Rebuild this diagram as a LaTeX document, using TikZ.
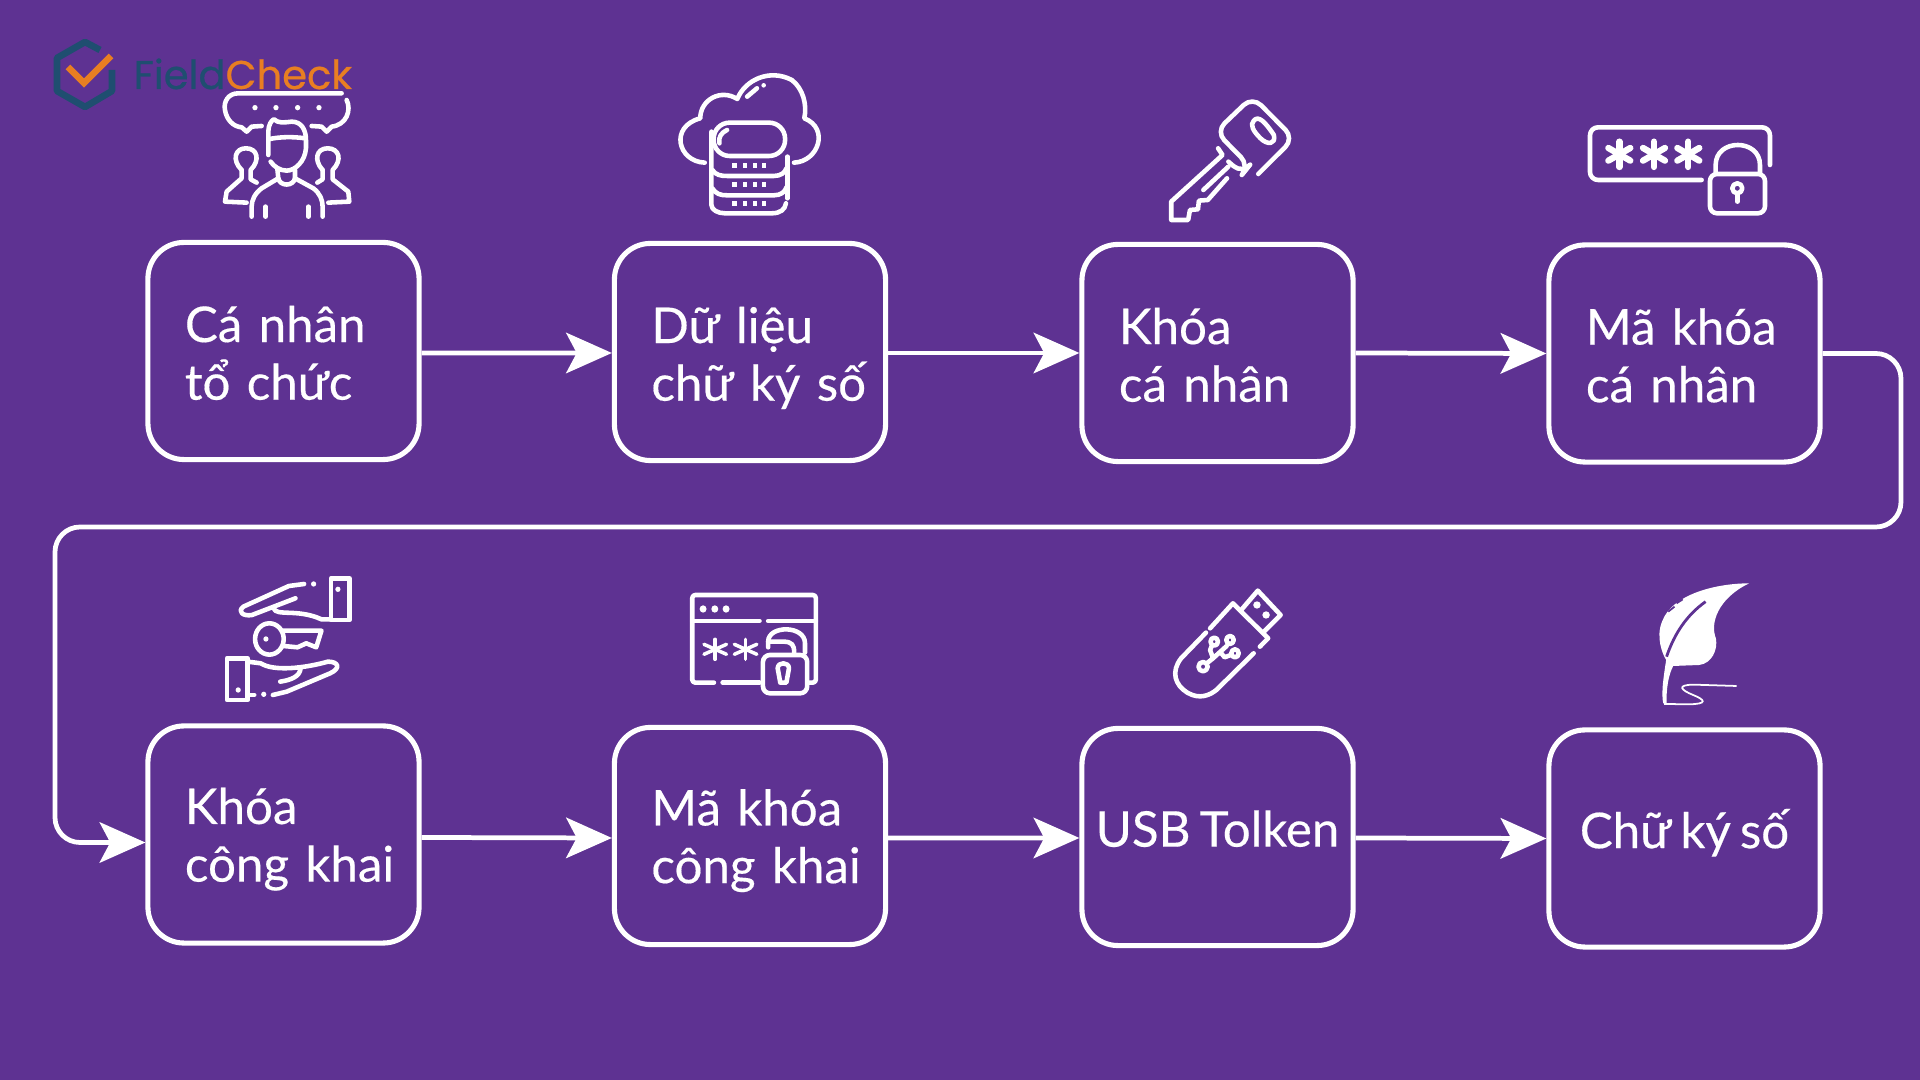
\documentclass[tikz,border=0pt]{standalone}
\usepackage{fontspec}
\setmainfont[FakeBold=0.35,WordSpace=0.72]{Lato}
\newfontfamily\logofont[FakeBold=0.6]{Poppins}
\usetikzlibrary{arrows.meta}
\definecolor{bgpurple}{HTML}{5E3292}
\definecolor{logoteal}{HTML}{1F4E70}
\definecolor{logoorange}{HTML}{E87E22}
\newcommand{\starmark}[3]{\foreach \a in {30,90,150} \draw[icon] (#1,#2)+(\a:#3) -- +(\a+180:#3);}
\tikzset{
    icon/.style={draw=white,line width=1.3pt,line cap=round,line join=round},
    stepbox/.style={draw=white,line width=1.45pt,rounded corners=0.36cm,minimum width=2.71cm,minimum height=2.17cm,
        text=white,font=\fontsize{14}{16.4}\selectfont,inner sep=0pt},
    leftbox/.style={align=left,text width=1.97cm,execute at begin node={\rule{0pt}{#1}},execute at end node={\rule[-3pt]{0pt}{3pt}}},
    midbox/.style={align=center,text height=11pt,text depth=5.5pt}
}

\begin{document}
\begin{tikzpicture}[x=0.01cm,y=-0.01cm]
\fill[bgpurple] (0,0) rectangle (1920,1080);

\begin{scope}[every node/.style={stepbox}]
    \node (A)[leftbox=14.3pt] at (283.5,351) {Cá nhân\\tổ chức};
    \node (B)[leftbox=14.3pt] at (750,352) {Dữ liệu\\\mbox{chữ ký số}};
    \node (C)[leftbox=14.3pt] at (1217.5,353) {Khóa\\cá nhân};
    \node (D)[leftbox=14.3pt] at (1684.5,353.5) {Mã khóa\\cá nhân};
    \node (E)[leftbox=13.4pt] at (283.5,834.5) {Khóa\\\mbox{công khai}};
    \node (F)[leftbox=13.4pt] at (750,836) {Mã khóa\\\mbox{công khai}};
    \node (G)[midbox] at (1217.5,837) {USB Tolken};
    \node (H)[midbox] at (1684.5,838.5) {Chữ ký số};
\end{scope}

\coordinate (turnA) at (1901,527);
\coordinate (turnB) at (55,527);

\begin{scope}[every edge/.style={draw=white,line width=1.35pt,-{Stealth[length=13pt,width=11.5pt,inset=3pt]}}]
    \path  ([yshift=-.02cm]A.east) edge ([yshift=-.01cm]B.west);
    \path  ([yshift=-.01cm]B.east) edge (C.west);
    \path  (C.east) edge (D.west);
    \path  ([yshift=-.03cm]E.east) edge ([yshift=-.02cm]F.west);
    \path  ([yshift=-.02cm]F.east) edge ([yshift=-.01cm]G.west);
    \path  ([yshift=-.01cm]G.east) edge (H.west);
    \draw[white,line width=1.35pt,rounded corners=0.25cm,-{Stealth[length=13pt,width=11.5pt,inset=3pt]}]
        (D.east) -| (turnA) -- (turnB) |- ([yshift=-.08cm]E.west);
\end{scope}

% logo
\draw[logoteal,line width=1.9pt,line join=round] (100,50) -- (85,42) -- (57,58) -- (57,91) -- (85,107) -- (112,91) -- (112,70);
\draw[logoorange,line width=1.9pt] (68,67) -- (84,83) -- (111,56);
\node (logo)[anchor=base west,inner sep=0pt,font=\logofont\fontsize{11.4}{11.4}\selectfont] at (133,89) {\textcolor{logoteal}{Field}\textcolor{logoorange}{Check}};

% people
\begin{scope}[shift={(0,20)},scale=0.3333]
    \draw[icon] (1025,220) -- (715,220) .. controls (685,220) and (670,245) .. (675,270) .. controls (680,300) and (700,320) .. (725,322) -- (740,335) -- (755,320) -- (785,318);
    \draw[icon] (1040,240) .. controls (1055,270) and (1040,315) .. (995,320) -- (980,335) -- (965,320) -- (935,318);
    \foreach \dx in {765,828,893,957} \fill[white] (\dx,263) circle[radius=8];
    \draw[icon] (805,405) -- (805,335) .. controls (805,315) and (815,300) .. (822,298) .. controls (835,310) and (850,308) .. (875,305) .. controls (905,305) and (918,330) .. (918,360) -- (918,385) .. controls (915,425) and (885,452) .. (860,452) .. controls (840,452) and (822,440) .. (812,425);
    \draw[icon] (805,358) .. controls (840,350) and (880,350) .. (915,355);
    \draw[icon] (832,445) -- (835,475) .. controls (840,500) and (880,500) .. (885,475) -- (885,450);
    \draw[icon] (835,475) -- (785,505) .. controls (765,520) and (755,540) .. (755,560) -- (755,590);
    \draw[icon] (885,475) -- (940,505) .. controls (960,520) and (968,540) .. (968,560) -- (968,590);
    \draw[icon] (797,560) -- (797,590);
    \draw[icon] (925,560) -- (925,590);
    \draw[icon] (725,450) .. controls (695,420) and (705,385) .. (738,385) .. controls (772,385) and (782,420) .. (752,450) -- (752,478) -- (770,488);
    \draw[icon] (725,450) -- (725,475) -- (680,515) -- (675,545) -- (740,548);
    \draw[icon] (968,450) .. controls (940,420) and (950,385) .. (983,385) .. controls (1018,385) and (1028,420) .. (998,450) -- (998,478) -- (1045,515) -- (1048,545) -- (985,548);
    \draw[icon] (968,450) -- (968,478) -- (952,488);
\end{scope}

% cloud database
\begin{scope}[shift={(640,50)},xscale=0.4464,yscale=0.3333]
    \draw[icon] (145,338) .. controls (85,335) and (65,230) .. (135,205) .. controls (135,150) and (180,115) .. (218,147) .. controls (235,90) and (290,55) .. (340,90) .. controls (365,115) and (375,165) .. (368,205) .. controls (425,235) and (400,335) .. (345,338);
    \draw[icon] (240,140) -- (262,115);
    \draw[icon] (277,106) -- (277,106);
    \draw[icon,rounded corners=0.16cm] (165,218) rectangle (325,318);
    \draw[icon] (160,245) -- (160,465) .. controls (160,480) and (175,490) .. (190,490) -- (295,490) .. controls (315,490) and (325,478) .. (327,460);
    \draw[icon] (330,320) -- (330,445);
    \draw[icon] (162,360) .. controls (170,375) and (180,378) .. (195,378) -- (300,378) .. controls (315,378) and (325,368) .. (328,355);
    \draw[icon] (162,415) .. controls (170,432) and (180,436) .. (195,436) -- (300,436) .. controls (315,436) and (325,426) .. (328,412);
    \foreach \dy in {347,403,460} {
        \foreach \dx in {212,235,258,278} \fill[white] (\dx-5,\dy-7) rectangle (\dx+5,\dy+7);
    }
    \draw[icon] (178,280) .. controls (175,262) and (182,248) .. (195,240);
\end{scope}

% private key
\begin{scope}[shift={(640,50)},xscale=0.4464,yscale=0.3333]
    \draw[icon,rounded corners=0.12cm] (1385,372) -- (1465,265) -- (1372,140) -- (1290,245) -- (1365,347) -- (1350,372) -- (1318,335);
    \draw[icon] (1375,212) .. controls (1385,195) and (1400,215) .. (1420,255) .. controls (1425,285) and (1405,285) .. (1390,265) .. controls (1375,245) and (1365,225) .. (1375,212);
    \draw[icon] (1295,295) -- (1305,315) -- (1190,455) -- (1190,510) -- (1228,510) -- (1232,480) -- (1250,478) -- (1252,452) -- (1272,450) -- (1315,385);
    \draw[icon] (1318,350) -- (1262,420);
\end{scope}

% password lock
\begin{scope}[shift={(1540,100)},scale=0.3333]
    \draw[icon,rounded corners=0.08cm] (485,240) -- (150,240) -- (150,82) -- (690,82) -- (690,195);
    \begin{scope}[icon/.append style={line width=1.8pt}]
        \starmark{238}{163}{38}
        \starmark{342}{163}{38}
        \starmark{445}{163}{38}
    \end{scope}
    \draw[icon,rounded corners=0.07cm] (510,222) rectangle (675,340);
    \draw[icon] (527,222) -- (527,195) .. controls (527,115) and (660,115) .. (660,195) -- (660,222);
    \draw[icon] (592,265) circle[radius=15];
    \draw[icon] (592,282) -- (592,305);
\end{scope}

% hands and key
\begin{scope}[shift={(200,560)},xscale=0.4337,yscale=0.3333]
    \draw[icon] (302,55) rectangle (345,180);
    \fill[white] (318,88) ellipse[x radius=6,y radius=8];
    \fill[white] (262,72) ellipse[x radius=6,y radius=8];
    \draw[icon] (240,72) -- (205,78) -- (100,140) .. controls (85,155) and (100,170) .. (120,165) -- (220,115);
    \draw[icon] (170,145) .. controls (175,170) and (225,145) .. (280,178) -- (302,178);
    \draw[icon] (160,237) ellipse[x radius=33,y radius=47];
    \fill[white] (152,237) ellipse[x radius=6,y radius=8];
    \draw[icon] (192,212) -- (280,212) -- (268,262) -- (245,250) -- (225,262) -- (192,258);
    \draw[icon] (62,295) rectangle (110,420);
    \fill[white] (88,390) ellipse[x radius=6,y radius=8];
    \fill[white] (147,403) ellipse[x radius=6,y radius=8];
    \draw[icon] (110,305) -- (140,310) .. controls (170,335) and (240,325) .. (295,305) .. controls (320,305) and (325,325) .. (300,340) -- (200,395) -- (168,405);
    \draw[icon] (232,325) .. controls (230,350) and (210,360) .. (185,365);
    \draw[icon] (110,405) -- (125,405);
\end{scope}

% window and lock
\begin{scope}[shift={(200,560)},xscale=0.4337,yscale=0.3333]
    \draw[icon,rounded corners=0.03cm] (1185,368) -- (1135,368) -- (1135,105) -- (1420,105) -- (1420,368) -- (1405,368);
    \draw[icon] (1205,368) -- (1290,368);
    \draw[icon] (1135,183) -- (1290,183);
    \draw[icon] (1310,183) -- (1420,183);
    \foreach \dx in {1160,1187,1213} \fill[white] (\dx,147) ellipse[x radius=8,y radius=11];
    \begin{scope}[icon/.append style={line width=1pt}]
        \starmark{1188}{268}{30}
        \starmark{1258}{268}{30}
    \end{scope}
    \draw[icon,rounded corners=0.07cm] (1298,285) rectangle (1400,400);
    \draw[icon] (1310,262) -- (1310,245) .. controls (1310,195) and (1395,195) .. (1395,250) -- (1395,278);
    \draw[icon] (1310,245) -- (1345,245) .. controls (1365,245) and (1370,255) .. (1370,278);
    \draw[icon] (1338,368) -- (1352,368) -- (1358,325) .. controls (1358,305) and (1332,305) .. (1332,325) -- (1338,368);
\end{scope}

% usb stick
\begin{scope}[shift={(1150,560)},xscale=0.4146,yscale=0.3333]
    \draw[icon] (145,205) -- (200,130) -- (285,235) -- (265,260);
    \draw[icon] (135,218) -- (75,295) .. controls (50,335) and (60,375) .. (90,398) .. controls (120,420) and (145,405) .. (160,390) -- (250,280);
    \draw[icon] (220,150) -- (260,92) -- (315,165) -- (275,215);
    \fill[white] (258,135) ellipse[x radius=9,y radius=11];
    \fill[white] (280,165) ellipse[x radius=9,y radius=11];
    \draw[icon] (128,320) ellipse[x radius=11,y radius=14];
    \draw[icon] (155,245) ellipse[x radius=9,y radius=12];
    \draw[icon] (193,240) ellipse[x radius=9,y radius=12];
    \draw[icon] (205,280) ellipse[x radius=9,y radius=12];
    \draw[icon] (137,310) -- (152,295) -- (145,270) -- (150,255);
    \draw[icon] (152,295) -- (185,258);
    \draw[icon] (170,277) -- (180,292) -- (195,285);
\end{scope}

% feather
\begin{scope}[shift={(1150,560)},xscale=0.4146,yscale=0.3333]
    \fill[white] (1445,70) .. controls (1370,70) and (1260,100) .. (1235,185) .. controls (1220,230) and (1235,280) .. (1245,300) .. controls (1240,340) and (1232,400) .. (1238,430) -- (1246,430) .. controls (1245,390) and (1250,345) .. (1262,318) -- (1325,315) .. controls (1355,310) and (1370,270) .. (1365,235) .. controls (1350,190) and (1370,115) .. (1445,70) -- cycle;
    \draw[bgpurple,line width=.8pt] (1246,290) .. controls (1265,220) and (1295,165) .. (1340,125);
    \draw[bgpurple,line width=.5pt] (1250,155) -- (1265,140);
    \draw[bgpurple,line width=.5pt] (1270,130) -- (1285,118);
    \draw[white,line width=.5pt] (1415,378) -- (1310,374) .. controls (1270,375) and (1280,390) .. (1310,405) .. controls (1340,420) and (1345,432) .. (1300,433) -- (1240,432);
\end{scope}
\end{tikzpicture}
\end{document}
